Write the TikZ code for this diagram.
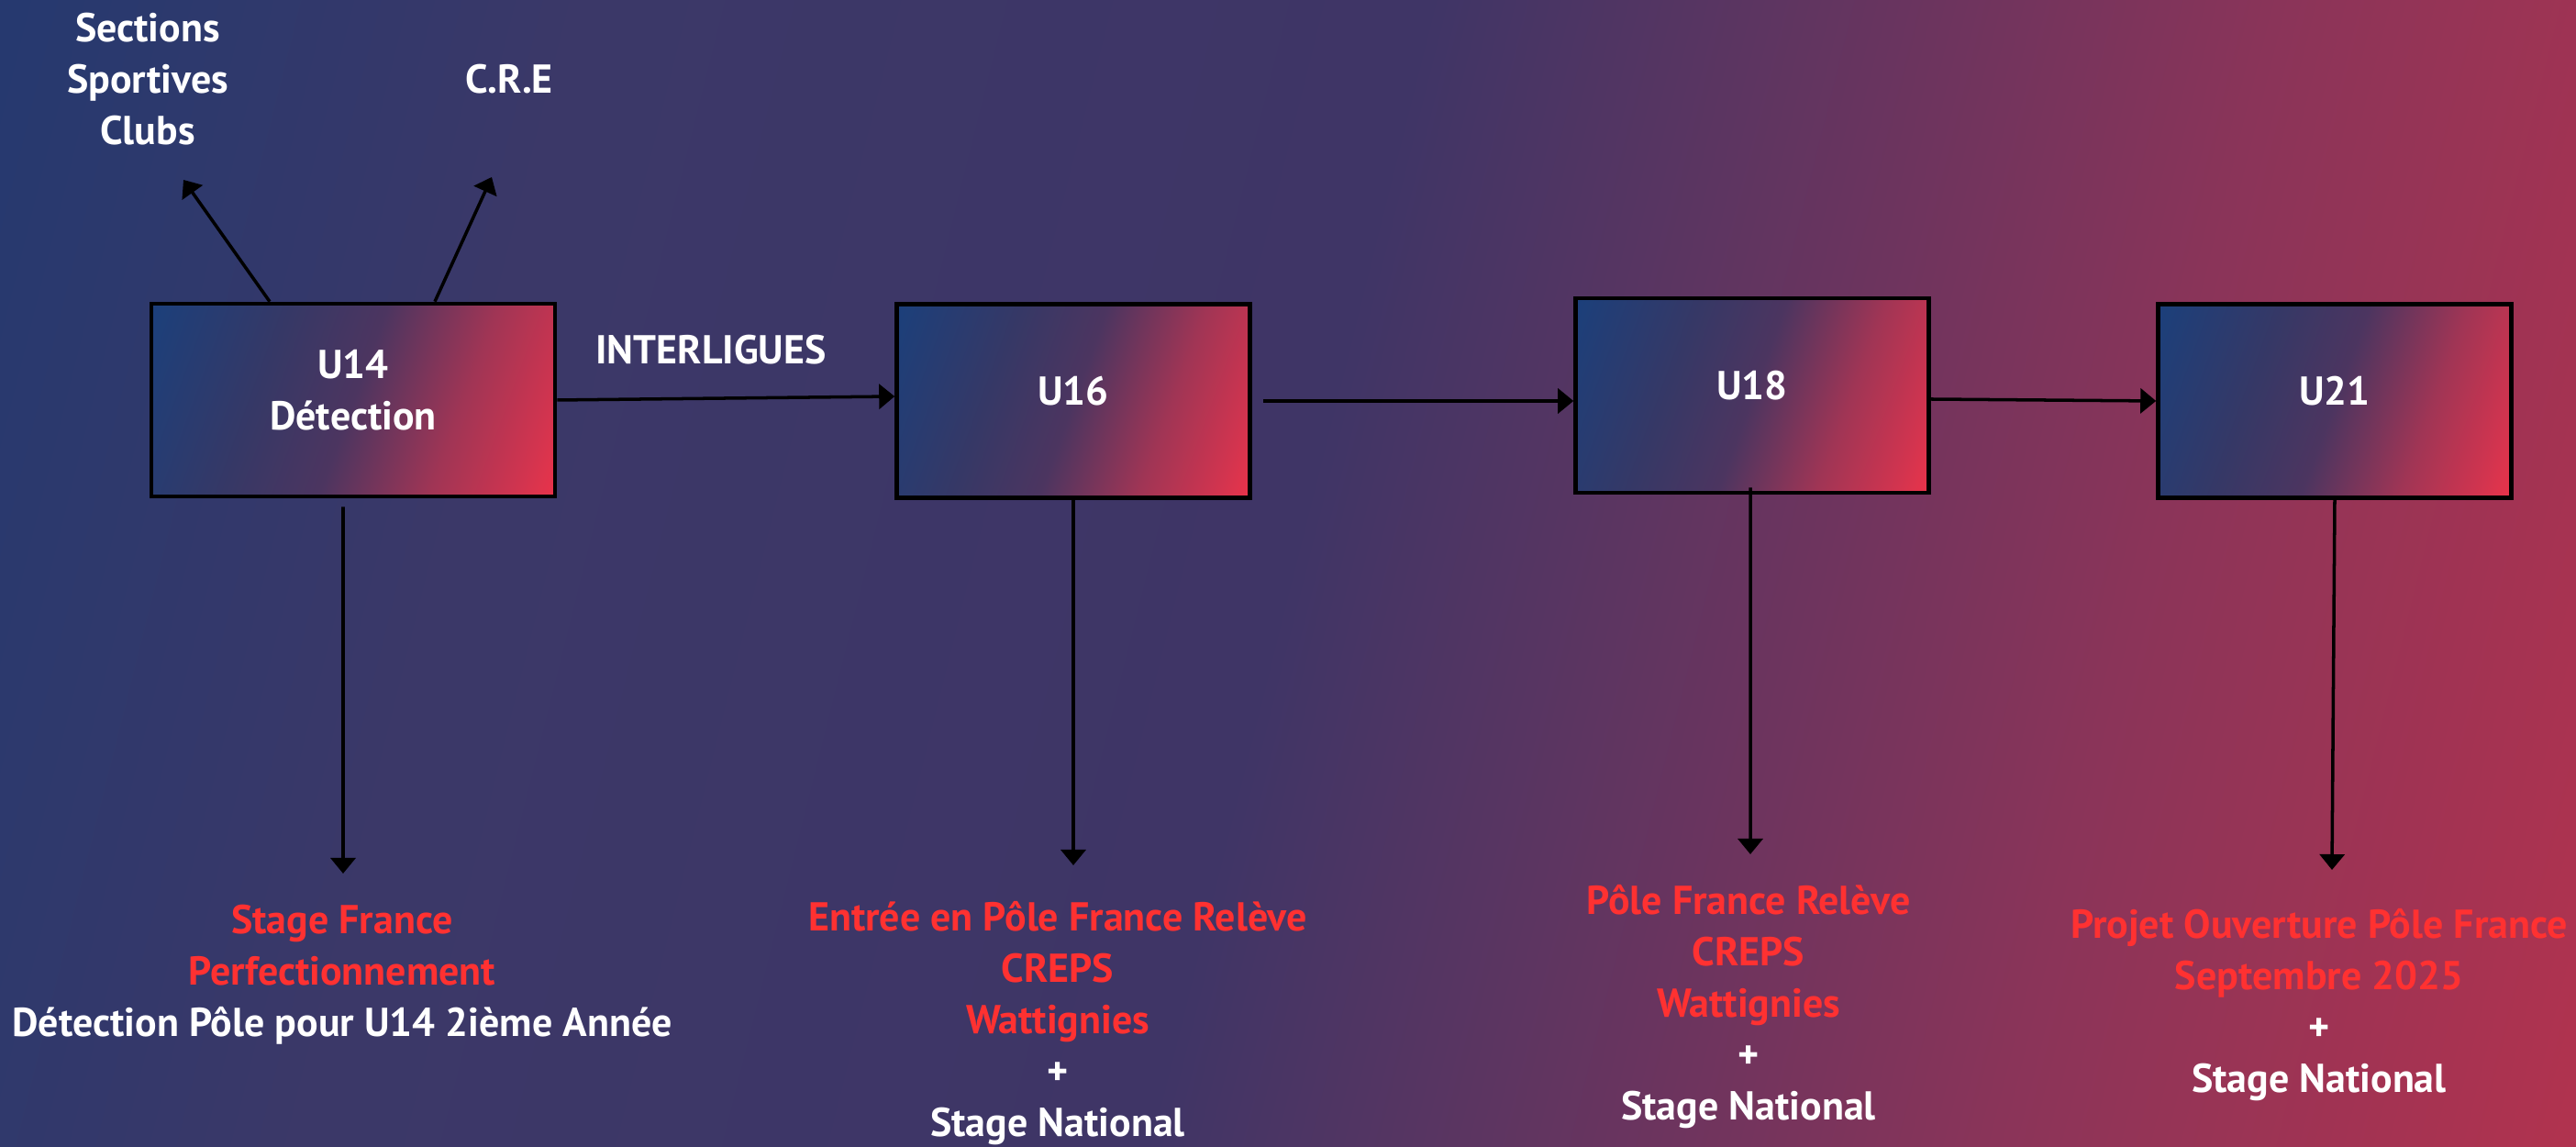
\documentclass[tikz,border=0pt]{standalone}
\usepackage{fontspec}
\setmainfont{PT Sans}
\usetikzlibrary{arrows.meta}

\definecolor{bgA}{HTML}{26396F}
\definecolor{bgB}{HTML}{3B3868}
\definecolor{bgC}{HTML}{3F3566}
\definecolor{bgD}{HTML}{8A3459}
\definecolor{bgE}{HTML}{B0334F}
\definecolor{bxA}{HTML}{1A407C}
\definecolor{bxB}{HTML}{363866}
\definecolor{bxC}{HTML}{4C3560}
\definecolor{bxD}{HTML}{A03555}
\definecolor{bxE}{HTML}{D2344F}
\definecolor{bxF}{HTML}{EE3349}
\definecolor{txtred}{HTML}{FF3131}

\pgfdeclarehorizontalshading{bgshade}{100bp}{color(0bp)=(bgA); color(20bp)=(bgA); color(32bp)=(bgB); color(50bp)=(bgC); color(68bp)=(bgD); color(80bp)=(bgE); color(100bp)=(bgE)}
\pgfdeclarehorizontalshading{boxshade}{100bp}{color(0bp)=(bxA); color(17bp)=(bxA); color(37bp)=(bxB); color(50bp)=(bxC); color(65bp)=(bxD); color(77bp)=(bxE); color(83bp)=(bxF); color(100bp)=(bxF)}

\begin{document}
\begin{tikzpicture}[font=\bfseries\fontsize{12.5pt}{15.9pt}\selectfont,
    unit/.style={shade, shading=boxshade, shading angle=-20, draw=black, line width=1.3pt, minimum width=3.85cm, minimum height=2.11cm, inner sep=0pt},
    unitlabel/.style={text=white, align=center, yshift=0.11cm},
    info/.style={text=white, align=center},
    arr/.style={draw=black, line width=1pt, -{Triangle[length=1.7mm,width=2.7mm]}}]

    \shade[shading=bgshade, shading angle=-14] (0,0) rectangle (28.08,12.5);
    \useasboundingbox (0,0) rectangle (28.08,12.5);

    \node[unit, minimum width=4.40cm, minimum height=2.10cm, label={[unitlabel]center:{U14\\Détection}}] (u14) at (3.85,8.14) {};
    \node[unit, label={[unitlabel]center:U16}] (u16) at (11.70,8.13) {};
    \node[unit, minimum height=2.12cm, label={[unitlabel]center:U18}] (u18) at (19.10,8.19) {};
    \node[unit, label={[unitlabel]center:U21}] (u21) at (25.45,8.13) {};

    \node[info] (sect) at (1.61,11.64) {Sections\\Sportives\\Clubs};
    \node[info] (cre) at (5.55,11.64) {C.R.E};
    \node[info] (inter) at (7.75,8.69) {INTERLIGUES};

    \node[info] (i14) at (3.73,1.88) {\textcolor{txtred}{Stage France}\\\textcolor{txtred}{Perfectionnement}\\Détection Pôle pour U14 2ième Année};
    \node[info] (i16) at (11.53,1.35) {\textcolor{txtred}{Entrée en Pôle France Relève}\\\textcolor{txtred}{CREPS}\\\textcolor{txtred}{Wattignies}\\+\\Stage National};
    \node[info] (i18) at (19.06,1.53) {\textcolor{txtred}{Pôle France Relève}\\\textcolor{txtred}{CREPS}\\\textcolor{txtred}{Wattignies}\\+\\Stage National};
    \node[info] (i21) at (25.28,1.55) {\textcolor{txtred}{Projet Ouverture Pôle France}\\\textcolor{txtred}{Septembre 2025}\\+\\Stage National};

    \coordinate (tsect) at (2.00,10.54);
    \coordinate (tcre) at (5.36,10.57);
    \coordinate (t14) at (3.74,2.98);
    \coordinate (t16) at (11.70,3.07);
    \coordinate (t18) at (19.08,3.19);
    \coordinate (t21) at (25.42,3.02);

    \draw[arr] ([xshift=-0.91cm]u14.north) -- (tsect);
    \draw[arr] ([xshift=0.89cm]u14.north) -- (tcre);

    \draw[arr] (u14.east) -- ([yshift=0.05cm]u16.west);
    \draw[arr] ([xshift=0.12cm]u16.east) -- ([yshift=-0.06cm]u18.west);
    \draw[arr] ([yshift=-0.04cm]u18.east) -- (u21.west);

    \draw[arr] ([xshift=-0.11cm,yshift=-0.09cm]u14.south) -- (t14);
    \draw[arr] (u16.south) -- (t16);
    \draw[arr] ([xshift=-0.02cm,yshift=0.08cm]u18.south) -- (t18);
    \draw[arr] (u21.south) -- (t21);

\end{tikzpicture}
\end{document}
